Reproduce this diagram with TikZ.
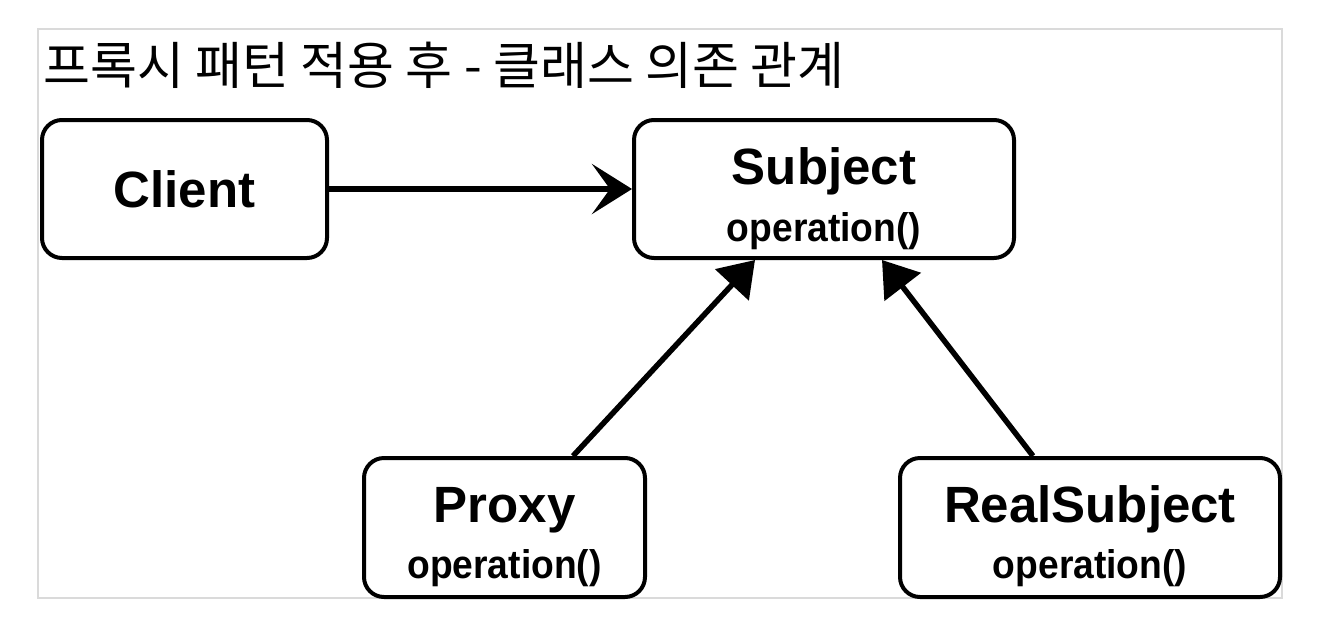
\documentclass[tikz,border=0pt]{standalone}
\usepackage{fontspec}
\setmainfont{Liberation Sans}
\newfontfamily\krfont{Noto Sans CJK KR}
\newfontfamily\opfont[FakeStretch=0.93]{Liberation Sans Bold}
\newfontfamily\namefont{Liberation Sans Bold}
\usetikzlibrary{arrows.meta}
\definecolor{framegray}{HTML}{DADADA}
\tikzset{
  classbox/.style={draw=black, line width=4pt, rounded corners=20pt, fill=white, inner sep=0pt},
  nametext/.style={anchor=base, inner sep=0pt, font=\namefont\fontsize{51}{60}\selectfont},
  optext/.style={anchor=base, inner sep=0pt, font=\opfont\fontsize{40}{48}\selectfont},
  dep/.style={line width=5.5pt, -{Triangle[length=34pt,width=45pt]}},
  deph/.style={line width=5.5pt, -{Stealth[length=40pt,width=50pt,inset=18pt]}},
}
\begin{document}
\begin{tikzpicture}[x=1pt,y=-1pt]
\useasboundingbox (0,0) rectangle (1340,624);
\draw[framegray, line width=2.5pt] (38,29) rectangle (1282,598);
\node[anchor=base west, inner sep=0pt, font=\krfont\fontsize{51}{60}\selectfont] (title) at (43,84) {프록시 패턴 적용 후 - 클래스 의존 관계};
\node[classbox, minimum width=285pt, minimum height=138pt] (client) at (184.5,189) {};
\node[classbox, minimum width=380pt, minimum height=138pt] (subj) at (824,189) {};
\node[classbox, minimum width=281pt, minimum height=139pt] (proxy) at (504.5,527.5) {};
\node[classbox, minimum width=380pt, minimum height=139pt] (real) at (1090,527.5) {};
\node[nametext] (clientname) at (184.5,207) {Client};
\node[nametext] (subjname) at (824,184) {Subject};
\node[optext] (subjop) at (824,241) {operation()};
\node[nametext] (proxyname) at (504.5,522) {Proxy};
\node[optext] (proxyop) at (504.5,578) {operation()};
\node[nametext] (realname) at (1090,522) {RealSubject};
\node[optext] (realop) at (1090,578) {operation()};
\coordinate (ptail) at ([xshift=68.5pt]proxy.north);
\coordinate (ptip) at ([xshift=-69pt]subj.south);
\coordinate (rtail) at ([xshift=-57pt]real.north);
\coordinate (rtip) at ([xshift=58pt]subj.south);
\draw[deph] (client.east) -- (subj.west);
\draw[dep] (ptail) -- (ptip);
\draw[dep] (rtail) -- (rtip);
\end{tikzpicture}
\end{document}
